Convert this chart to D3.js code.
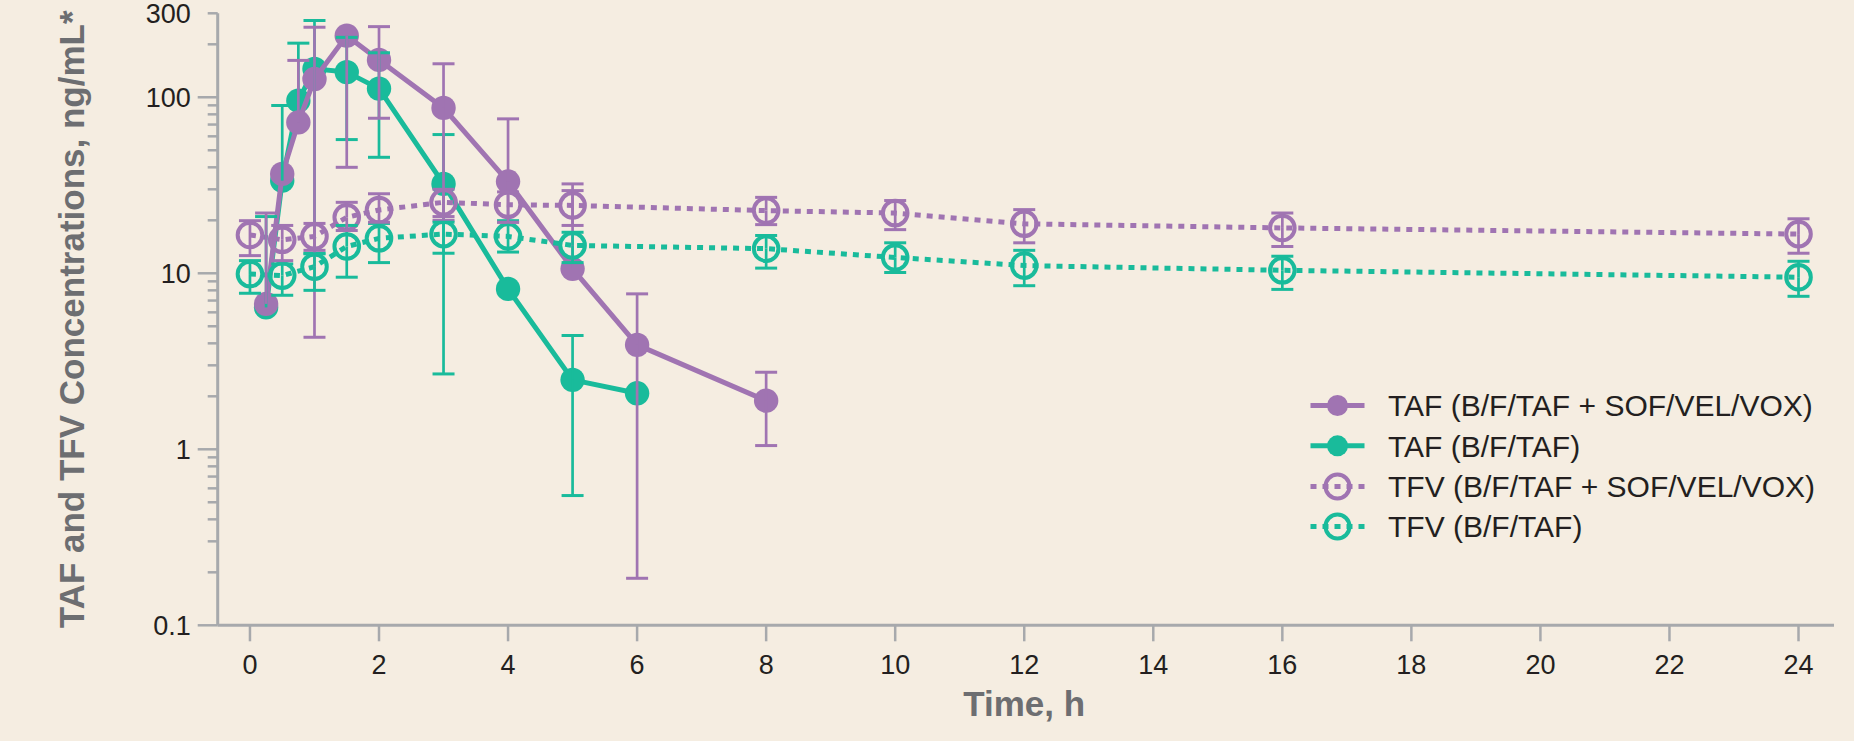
<!DOCTYPE html>
<meta charset="utf-8">
<body style="margin:0;background:#f5ede1;">
<script src="https://d3js.org/d3.v7.min.js"></script>
<script>

var W = 1854, H = 741;

// TAF, B/F/TAF + SOF/VEL/VOX
var tafComboT  = [0.25, 0.5, 0.75, 1, 1.5, 2, 3, 4, 5, 6, 8];
var tafComboY  = [6.7, 36.7, 72, 127, 224, 163, 87, 33.2, 10.6, 3.92, 1.89];
var tafComboLo = [null, null, null, 4.33, 40, 76, 20, 19.5, null, 0.185, 1.05];
var tafComboHi = [22, null, 162, 250, null, 252, 155, 75.4, 32.2, 7.64, 2.74];

// TAF, B/F/TAF
var tafAloneT  = [0.25, 0.5, 0.75, 1, 1.5, 2, 3, 4, 5, 6];
var tafAloneY  = [6.4, 33.6, 95.7, 145, 139, 112, 32.2, 8.15, 2.48, 2.08];
var tafAloneLo = [null, null, null, 13, 57.5, 45.6, 2.68, null, 0.546, null];
var tafAloneHi = [21, 89.8, 203, 273, 219, 179, 61.4, null, 4.43, null];

// TFV, both arms share the same sampling times
var tfvT       = [0, 0.5, 1, 1.5, 2, 3, 4, 5, 8, 10, 12, 16, 24];
var tfvComboY  = [16.5, 15.5, 16.2, 20.8, 22.9, 25.3, 24.5, 24.3, 22.7, 22.0, 19.1, 18.1, 16.7];
var tfvComboLo = [12.6, 11.8, 13.5, 17.5, 19.5, 21, 19.5, 18.7, 18.9, 17.7, 14.9, 14.2, 13.0];
var tfvComboHi = [19.9, 18.7, 19.2, 25.3, 28.3, 30, 29, 29.5, 27.0, 25.9, 23.0, 22.0, 20.4];
var tfvAloneY  = [9.9, 9.7, 10.9, 14.2, 15.8, 16.7, 16.2, 14.4, 13.8, 12.3, 11.06, 10.4, 9.5];
var tfvAloneLo = [7.7, 7.5, 8.0, 9.5, 11.5, 13, 13.2, 11.5, 10.7, 10.1, 8.5, 8.1, 7.4];
var tfvAloneHi = [11.8, 11.3, 12.9, 18.7, 19.2, 19.5, 19.9, 17.1, 16.4, 14.9, 13.5, 12.5, 11.7];

var xTicks = d3.range(0, 25, 2);
var yLabelTicks = [0.1, 1, 10, 100, 300];

var legendLabels = [
  'TAF (B/F/TAF + SOF/VEL/VOX)',
  'TAF (B/F/TAF)',
  'TFV (B/F/TAF + SOF/VEL/VOX)',
  'TFV (B/F/TAF)'
];

var PURPLE = '#a074b2', TEAL = '#19bb9b', AXIS = '#a7a9ac', TXT = '#231f20', TITLE = '#6d6e71';
var FONT = 'Liberation Sans, Arial, sans-serif';

var svg = d3.select('body').append('svg')
    .attr('width', W).attr('height', H)
    .style('display', 'block')
    .style('background', '#f5ede1');

var x = d3.scaleLinear().domain([-0.5, 24.55]).range([217.7, 1834]);
var y = d3.scaleLog().domain([0.1, 300]).range([625.3, 13.3]);

// ---- axes
var gy = svg.append('g');
gy.append('line')
  .attr('x1', x(-0.5)).attr('x2', x(-0.5))
  .attr('y1', y(0.1)).attr('y2', y(300))
  .attr('stroke', AXIS).attr('stroke-width', 3);

var minor = [];
[0.1, 1, 10, 100].forEach(d => {
  d3.range(2, 10).forEach(k => { if (d * k <= 300) minor.push(d * k); });
});
gy.selectAll('.mn').data(minor).enter().append('line')
  .attr('x1', x(-0.5) - 10).attr('x2', x(-0.5))
  .attr('y1', d => y(d)).attr('y2', d => y(d))
  .attr('stroke', AXIS).attr('stroke-width', 2.5);
gy.selectAll('.mj').data([0.1, 1, 10, 100]).enter().append('line')
  .attr('x1', x(-0.5) - 20).attr('x2', x(-0.5))
  .attr('y1', d => y(d)).attr('y2', d => y(d))
  .attr('stroke', AXIS).attr('stroke-width', 2.5);
gy.selectAll('text').data(yLabelTicks).enter().append('text')
  .attr('x', x(-0.5) - 27)
  .attr('y', d => y(d))
  .attr('dy', '0.36em')
  .attr('text-anchor', 'end')
  .attr('font-family', FONT).attr('font-size', 27).attr('fill', TXT)
  .text(d => d);

var gx = svg.append('g');
gx.append('line')
  .attr('x1', x(-0.5)).attr('x2', 1834)
  .attr('y1', y(0.1)).attr('y2', y(0.1))
  .attr('stroke', AXIS).attr('stroke-width', 3);
gx.selectAll('line.t').data(xTicks).enter().append('line')
  .attr('x1', d => x(d)).attr('x2', d => x(d))
  .attr('y1', y(0.1)).attr('y2', y(0.1) + 16)
  .attr('stroke', AXIS).attr('stroke-width', 2.5);
gx.selectAll('text').data(xTicks).enter().append('text')
  .attr('x', d => x(d)).attr('y', 673.5)
  .attr('text-anchor', 'middle')
  .attr('font-family', FONT).attr('font-size', 27).attr('fill', TXT)
  .text(d => d);

svg.append('text')
  .attr('x', x(12)).attr('y', 716)
  .attr('text-anchor', 'middle')
  .attr('font-family', FONT).attr('font-size', 35).attr('font-weight', 'bold')
  .attr('fill', TITLE)
  .text('Time, h');

svg.append('text')
  .attr('transform', 'translate(84,' + ((y(0.1) + y(300)) / 2) + ') rotate(-90)')
  .attr('text-anchor', 'middle')
  .attr('font-family', FONT).attr('font-size', 35).attr('font-weight', 'bold')
  .attr('fill', TITLE)
  .text('TAF and TFV Concentrations, ng/mL*');

// ---- series
function rows(t, m, lo, hi) {
  return t.map((d, i) => ({ t: d, m: m[i], lo: lo[i], hi: hi[i] }));
}
var series = [
  { d: rows(tafAloneT, tafAloneY, tafAloneLo, tafAloneHi), c: TEAL, open: false },
  { d: rows(tafComboT, tafComboY, tafComboLo, tafComboHi), c: PURPLE, open: false },
  { d: rows(tfvT, tfvAloneY, tfvAloneLo, tfvAloneHi), c: TEAL, open: true },
  { d: rows(tfvT, tfvComboY, tfvComboLo, tfvComboHi), c: PURPLE, open: true }
];

var line = d3.line().x(d => x(d.t)).y(d => y(d.m));
var plot = svg.append('g');

series.forEach(s => {
  plot.append('path')
    .attr('d', line(s.d))
    .attr('fill', 'none')
    .attr('stroke', s.c)
    .attr('stroke-width', 5)
    .attr('stroke-dasharray', s.open ? '6,6' : null)
    .attr('stroke-linejoin', 'round');
  plot.selectAll(null).data(s.d).enter().append('circle')
    .attr('cx', d => x(d.t)).attr('cy', d => y(d.m))
    .attr('r', s.open ? 12.3 : 12.2)
    .attr('fill', s.open ? 'none' : s.c)
    .attr('stroke', s.open ? s.c : 'none')
    .attr('stroke-width', 4);
});

// error bars sit on top of everything
var bars = svg.append('g');
series.forEach(s => {
  s.d.forEach(d => {
    var cx = x(d.t);
    [d.lo, d.hi].forEach(v => {
      if (v == null) return;
      bars.append('line')
        .attr('x1', cx).attr('x2', cx)
        .attr('y1', y(d.m)).attr('y2', y(v))
        .attr('stroke', s.c).attr('stroke-width', 2.7);
      bars.append('line')
        .attr('x1', cx - 11).attr('x2', cx + 11)
        .attr('y1', y(v)).attr('y2', y(v))
        .attr('stroke', s.c).attr('stroke-width', 3);
    });
  });
});

// ---- legend
var legRows = [405.5, 445.8, 486.5, 526.5];
var legStyle = [
  { c: PURPLE, open: false }, { c: TEAL, open: false },
  { c: PURPLE, open: true }, { c: TEAL, open: true }
];
var leg = svg.append('g');
legendLabels.forEach((lab, i) => {
  var st = legStyle[i], ly = legRows[i];
  leg.append('line')
    .attr('x1', 1310.5).attr('x2', 1364.5)
    .attr('y1', ly).attr('y2', ly)
    .attr('stroke', st.c).attr('stroke-width', 5)
    .attr('stroke-dasharray', st.open ? '6,6' : null);
  leg.append('circle')
    .attr('cx', 1337.5).attr('cy', ly)
    .attr('r', st.open ? 12 : 10.5)
    .attr('fill', st.open ? 'none' : st.c)
    .attr('stroke', st.open ? st.c : 'none')
    .attr('stroke-width', 4);
  leg.append('text')
    .attr('x', 1388).attr('y', ly).attr('dy', '0.36em')
    .attr('font-family', FONT).attr('font-size', 30).attr('fill', TXT)
    .text(lab);
});

</script>
</body>
</html>
